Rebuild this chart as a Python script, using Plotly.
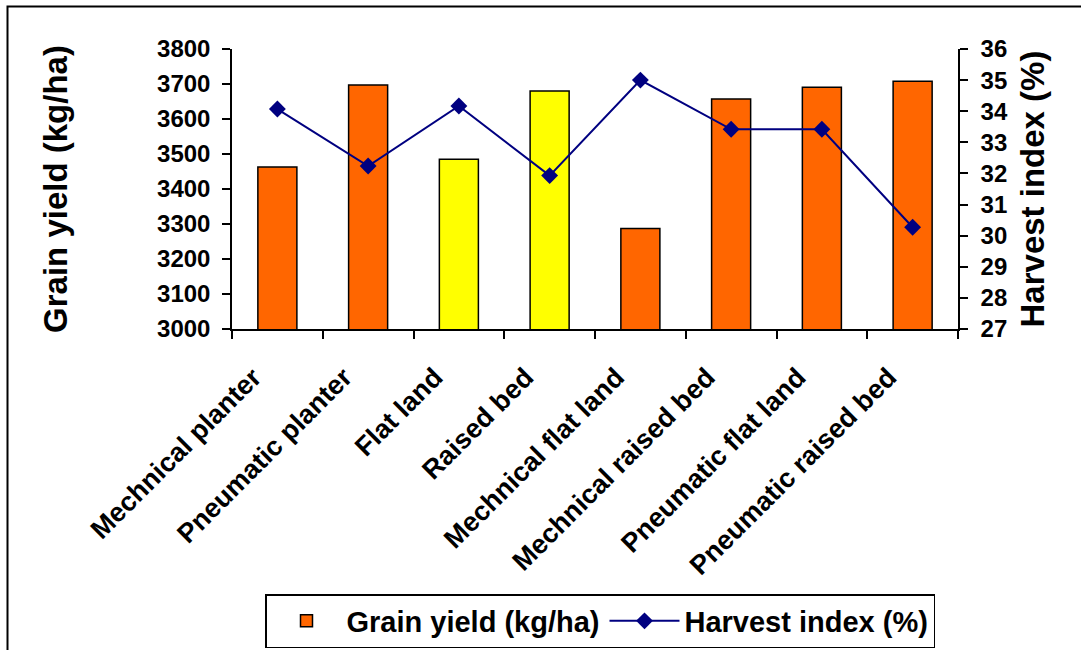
import plotly.graph_objects as go

categories = ["Mechnical planter", "Pneumatic planter", "Flat land", "Raised bed",
              "Mechnical flat land", "Mechnical raised bed", "Pneumatic flat land",
              "Pneumatic raised bed"]
grain_yield = [3463, 3697, 3485, 3680, 3287, 3657, 3691, 3708]
harvest_index = [34.07, 32.24, 34.17, 31.93, 35.0, 33.42, 33.42, 30.27]
bar_colors = ["#FF6600", "#FF6600", "#FFFF00", "#FFFF00",
              "#FF6600", "#FF6600", "#FF6600", "#FF6600"]

FONT = "Liberation Sans, Arial, sans-serif"

fig = go.Figure()
fig.add_trace(go.Bar(
    x=categories, y=grain_yield, name="Grain yield (kg/ha)",
    marker=dict(color=bar_colors, line=dict(color="black", width=1.5)),
    yaxis="y",
))
fig.add_trace(go.Scatter(
    x=categories, y=harvest_index, name="Harvest index (%)",
    mode="lines+markers",
    line=dict(color="#000080", width=2),
    marker=dict(symbol="diamond", size=13, color="#000080"),
    yaxis="y2",
))

L, R, T, B = 232, 958, 49, 329          # plot area in px
W, H = 1081, 650
pw, ph = R - L, B - T

def px(x):
    return (x - L) / pw

def py(y):
    return (B - y) / ph

fig.update_layout(
    width=W, height=H,
    margin=dict(l=L, r=W - R, t=T, b=H - B, pad=0, autoexpand=False),
    paper_bgcolor="white", plot_bgcolor="white",
    font=dict(family=FONT, color="black", size=22, weight="bold"),
    bargap=0.57,
    showlegend=True,
    legend=dict(
        orientation="h", x=px(600), xanchor="center", y=py(648), yanchor="bottom",
        bordercolor="black", borderwidth=1.5, bgcolor="white",
        font=dict(family=FONT, size=29, color="black", weight="bold"),
        itemwidth=70, entrywidth=0,
    ),
    xaxis=dict(
        type="category", tickson="boundaries", ticks="outside", ticklen=8,
        tickcolor="black", tickwidth=1.5, automargin=False,
        showline=True, linecolor="black", linewidth=1.5, showgrid=False,
        tickangle=-45, tickfont=dict(family=FONT, size=27, color="black", weight="bold"),
        ticklabelshift=-24, ticklabelstandoff=20,
        fixedrange=True,
    ),
    yaxis=dict(
        range=[3000, 3800], dtick=100, ticks="outside", ticklen=8,
        tickcolor="black", tickwidth=1.5, ticklabelstandoff=7, automargin=False,
        showline=True, linecolor="black", linewidth=1.5, showgrid=False,
        zeroline=False,
        tickfont=dict(family=FONT, size=24, color="black", weight="bold"),
        title=dict(text="Grain yield (kg/ha)", standoff=80,
                   font=dict(family=FONT, size=33, color="black", weight="bold")),
    ),
    yaxis2=dict(
        range=[27, 36], dtick=1, overlaying="y", side="right", ticks="outside",
        ticklen=8, tickcolor="black", tickwidth=1.5, ticklabelstandoff=8,
        automargin=False,
        showline=True, linecolor="black", linewidth=1.5, showgrid=False,
        zeroline=False,
        tickfont=dict(family=FONT, size=24, color="black", weight="bold"),
        title=dict(text="Harvest index (%)", standoff=14,
                   font=dict(family=FONT, size=33, color="black", weight="bold")),
    ),
    shapes=[dict(
        type="rect", xref="paper", yref="paper",
        x0=px(7.5), x1=px(1100), y0=py(670), y1=py(6.5),
        line=dict(color="black", width=2), fillcolor="rgba(0,0,0,0)", layer="below",
    )],
)

fig.write_html("out.html", config={"displayModeBar": False},
               post_script="document.body.style.margin='0';document.body.style.overflow='hidden';")
